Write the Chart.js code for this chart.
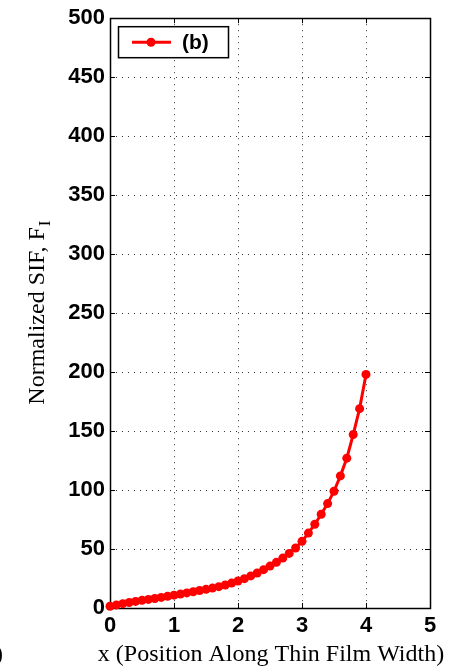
<!DOCTYPE html>
<html>
<head>
<meta charset="utf-8">
<script src="https://cdn.jsdelivr.net/npm/chart.js@4/dist/chart.umd.min.js"></script>
<style>
  html, body { margin: 0; padding: 0; background: #fff; }
  canvas { display: block; }
</style>
</head>
<body>
<canvas id="sifChart" width="450" height="667"></canvas>
<script>
// x position along film width, normalized SIF values
const xPos = [
  0.0, 0.1, 0.2, 0.3, 0.4, 0.5, 0.6, 0.7, 0.8, 0.9,
  1.0, 1.1, 1.2, 1.3, 1.4, 1.5, 1.6, 1.7, 1.8, 1.9,
  2.0, 2.1, 2.2, 2.3, 2.4, 2.5, 2.6, 2.7, 2.8, 2.9,
  3.0, 3.1, 3.2, 3.3, 3.4, 3.5, 3.6, 3.7, 3.8, 3.9, 4.0
];
const sifB = [
  1.5, 2.6, 3.7, 4.7, 5.6, 6.5, 7.3, 8.1, 9.0, 10.0,
  10.9, 11.8, 12.8, 13.8, 14.8, 15.8, 16.9, 18.1, 19.5, 21.1,
  22.9, 24.9, 27.2, 29.7, 32.5, 35.5, 38.7, 42.3, 46.3, 50.9,
  56.5, 63.5, 71.0, 79.5, 88.5, 99.0, 112.0, 127.0, 147.0, 169.0, 198.0
];
const seriesLabel = '(b)';
const xTitle = 'x (Position Along Thin Film Width)';
const yTitle = 'Normalized SIF, F';
const yTitleSub = 'I';

const RED = '#ff0000';
const tickFont = { family: "'Liberation Sans', Arial, sans-serif", size: 22, weight: 'bold' };
const serif = "'Liberation Serif', 'Times New Roman', serif";

// frame, inward ticks, titles and legend box like the original figure
const figureDecor = {
  id: 'figureDecor',
  beforeDatasetsDraw(chart) {
    const { ctx, chartArea: a, scales } = chart;
    ctx.save();
    ctx.strokeStyle = '#000';
    ctx.lineWidth = 1;
    ctx.beginPath();
    scales.y.ticks.forEach((t) => {
      const py = Math.round(scales.y.getPixelForValue(t.value)) + 0.5;
      ctx.moveTo(a.left, py); ctx.lineTo(a.left + 5, py);
      ctx.moveTo(a.right, py); ctx.lineTo(a.right - 5, py);
    });
    scales.x.ticks.forEach((t) => {
      const px = Math.round(scales.x.getPixelForValue(t.value)) + 0.5;
      ctx.moveTo(px, a.bottom); ctx.lineTo(px, a.bottom - 5);
      ctx.moveTo(px, a.top); ctx.lineTo(px, a.top + 5);
    });
    ctx.stroke();
    ctx.lineWidth = 1.5;
    ctx.strokeRect(Math.round(a.left) + 0.5, Math.round(a.top) + 0.5,
      Math.round(a.right - a.left), Math.round(a.bottom - a.top));
    ctx.restore();
  },
  afterDraw(chart) {
    const { ctx, chartArea: a } = chart;
    ctx.save();
    ctx.fillStyle = '#000';

    // x axis title
    ctx.font = `24px ${serif}`;
    ctx.textAlign = 'center';
    ctx.textBaseline = 'alphabetic';
    ctx.fillText(xTitle, (a.left + a.right) / 2 + 1, 661);

    // y axis title with subscript
    ctx.translate(44, (a.top + a.bottom) / 2);
    ctx.rotate(-Math.PI / 2);
    ctx.font = `24px ${serif}`;
    const w1 = ctx.measureText(yTitle).width;
    ctx.font = `17px ${serif}`;
    const w2 = ctx.measureText(yTitleSub).width;
    const start = -(w1 + w2) / 2;
    ctx.textAlign = 'left';
    ctx.font = `24px ${serif}`;
    ctx.fillText(yTitle, start, 0);
    ctx.font = `17px ${serif}`;
    ctx.fillText(yTitleSub, start + w1 + 1, 6);
    ctx.setTransform(1, 0, 0, 1, 0, 0);

    // cropped piece of neighbouring panel label
    ctx.font = `24px ${serif}`;
    ctx.textAlign = 'left';
    ctx.fillText(')', -5, 661);

    // legend box
    const bx = a.left + 8, by = a.top + 8, bw = 110, bh = 31;
    ctx.fillStyle = '#fff';
    ctx.fillRect(bx, by, bw, bh);
    ctx.strokeStyle = '#000';
    ctx.lineWidth = 1.5;
    ctx.strokeRect(bx + 0.5, by + 0.5, bw, bh);
    const ly = by + bh / 2 + 0.5;
    ctx.strokeStyle = RED;
    ctx.lineWidth = 3;
    ctx.beginPath();
    ctx.moveTo(bx + 14, ly); ctx.lineTo(bx + 53, ly);
    ctx.stroke();
    ctx.fillStyle = RED;
    ctx.beginPath();
    ctx.arc(bx + 33, ly, 4.5, 0, Math.PI * 2);
    ctx.fill();
    ctx.fillStyle = '#000';
    ctx.font = `bold 21px 'Liberation Sans', Arial, sans-serif`;
    ctx.textBaseline = 'middle';
    ctx.fillText(seriesLabel, bx + 64, ly + 1);
    ctx.restore();
  },
};

new Chart(document.getElementById('sifChart'), {
  type: 'line',
  data: {
    datasets: [
      {
        label: seriesLabel,
        data: xPos.map((x, i) => ({ x, y: sifB[i] })),
        borderColor: RED,
        backgroundColor: RED,
        borderWidth: 3,
        pointRadius: 4.5,
        pointBorderWidth: 0,
        pointStyle: 'circle',
        tension: 0,
        clip: false,
      },
    ],
  },
  options: {
    responsive: false,
    animation: false,
    events: [],
    layout: { padding: { top: 13, right: 20, left: 0, bottom: 0 } },
    plugins: { legend: { display: false }, tooltip: { enabled: false } },
    scales: {
      x: {
        type: 'linear',
        min: 0,
        max: 5,
        ticks: { stepSize: 1, color: '#000', font: tickFont, padding: 5, maxRotation: 0 },
        grid: { color: '#333', lineWidth: 1, drawTicks: false },
        border: { display: false, dash: [1, 5] },
        afterFit: (s) => { s.height = 59; },
      },
      y: {
        type: 'linear',
        min: 0,
        max: 500,
        ticks: { stepSize: 50, color: '#000', font: tickFont, padding: 5 },
        grid: { color: '#333', lineWidth: 1, drawTicks: false },
        border: { display: false, dash: [1, 5] },
        afterFit: (s) => { s.width = 110; },
      },
    },
  },
  plugins: [figureDecor],
});
</script>
</body>
</html>
